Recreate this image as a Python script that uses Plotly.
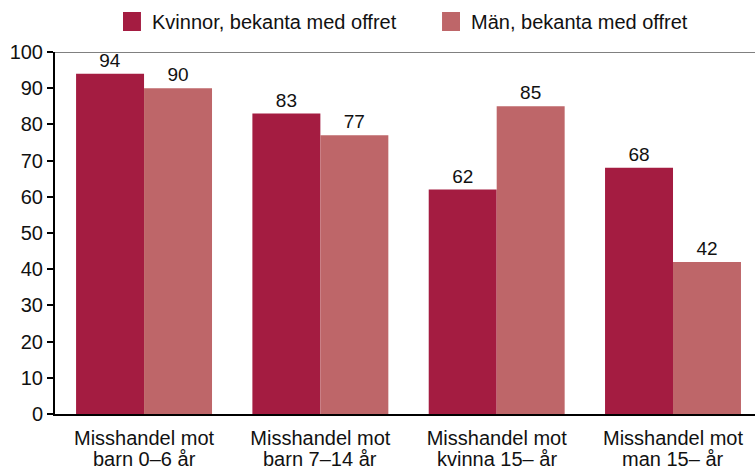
import plotly.graph_objects as go

categories = ["Misshandel mot|barn 0–6 år", "Misshandel mot|barn 7–14 år",
              "Misshandel mot|kvinna 15– år", "Misshandel mot|man 15– år"]
series_names = ["Kvinnor, bekanta med offret", "Män, bekanta med offret"]
women = [94, 83, 62, 68]
men = [90, 77, 85, 42]
y_ticks = [0, 10, 20, 30, 40, 50, 60, 70, 80, 90, 100]

colors = ["#A41C41", "#BE6669"]
FONT = "Liberation Sans, Arial, Helvetica, sans-serif"
FS = 20

fig = go.Figure()
for name, vals, col in zip(series_names, [women, men], colors):
    fig.add_trace(go.Bar(
        x=categories, y=vals, name=name, marker=dict(color=col, line=dict(width=0)),
        text=[str(v) for v in vals], textposition="outside", cliponaxis=False,
        textfont=dict(size=FS - 1, color="#111111", family=FONT),
        showlegend=False,
    ))

# top reference line at 100
fig.add_shape(type="line", xref="paper", yref="y", x0=0, x1=1, y0=100, y1=100,
              line=dict(color="#808080", width=2), layer="below")

# manual legend
leg_x = [0.0971, 0.5529]
for name, col, x0 in zip(series_names, colors, leg_x):
    fig.add_shape(type="rect", xref="paper", yref="paper", x0=x0, x1=x0 + 0.0257,
                  y0=1.058, y1=1.1105, fillcolor=col, line=dict(width=0))
    fig.add_annotation(xref="paper", yref="paper", x=x0 + 0.0386, y=1.084,
                       xanchor="left", yanchor="middle", text=name, showarrow=False,
                       font=dict(size=FS, color="#111111", family=FONT))

# category labels: first line as tick labels, second line (tighter spacing) as annotations
first_lines = [c.split("|")[0] for c in categories]
second_lines = [c.split("|")[1] for c in categories]
for cat, line2 in zip(categories, second_lines):
    fig.add_annotation(x=cat, xref="x", yref="paper", y=-0.123, yanchor="middle",
                       text=line2, showarrow=False,
                       font=dict(size=FS, color="#111111", family=FONT))

fig.update_layout(
    width=755, height=469,
    margin=dict(l=55, r=0, t=52, b=55, autoexpand=False),
    paper_bgcolor="white", plot_bgcolor="white",
    barmode="group", bargap=0.229, bargroupgap=0,
    font=dict(family=FONT, size=FS, color="#111111"),
    xaxis=dict(showline=True, linecolor="black", linewidth=2, ticks="",
               tickvals=categories, ticktext=first_lines, range=[-0.505, 3.465],
               showgrid=False, ticklabelstandoff=5, automargin=False,
               tickfont=dict(size=FS, family=FONT, color="#111111")),
    yaxis=dict(range=[0, 100], tickvals=y_ticks, showline=True, linecolor="black",
               linewidth=2, ticks="outside", ticklen=6, tickwidth=2, tickcolor="black",
               showgrid=False, zeroline=False, automargin=False,
               tickfont=dict(size=FS, family=FONT, color="#111111")),
)

fig.write_html("out.html", config={"displayModeBar": False},
               post_script="document.body.style.margin='0';")
